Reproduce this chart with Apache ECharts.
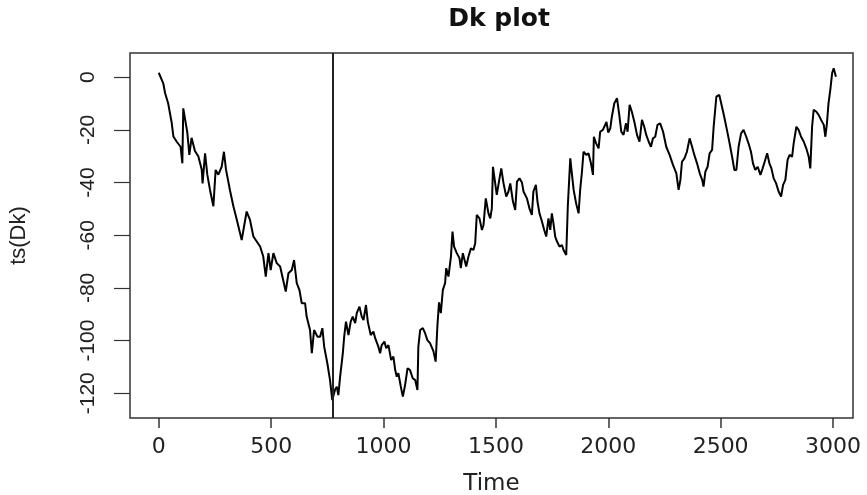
<!DOCTYPE html>
<html>
<head>
<meta charset="utf-8">
<title>Dk plot</title>
<script src="https://cdn.jsdelivr.net/npm/echarts@6/dist/echarts.min.js"></script>
<style>
  html, body { margin: 0; padding: 0; background: #fff; }
  #chart { width: 867px; height: 495px; }
</style>
</head>
<body>
<div id="chart"></div>
<script>
// values (time index, ts(Dk))
var timeIdx = [
  0, 20, 28, 42, 57, 65, 80, 97, 105, 109, 117, 127, 136, 146, 161, 176, 191, 195, 206, 216,
  228, 243, 253, 265, 280, 290, 299, 317, 332, 347, 362, 369, 391, 406, 421, 436, 451, 465, 476, 488,
  498, 510, 525, 540, 550, 565, 577, 592, 602, 614, 626, 636, 651, 658, 673, 681, 691, 706, 718, 728,
  736, 750, 762, 772, 785, 792, 799, 807, 819, 825, 833, 844, 854, 863, 874, 881, 893, 903, 911, 922,
  930, 943, 955, 963, 977, 985, 992, 1004, 1012, 1022, 1034, 1044, 1052, 1059, 1066, 1077, 1086, 1096, 1107, 1118,
  1130, 1141, 1151, 1155, 1163, 1175, 1185, 1195, 1207, 1222, 1232, 1240, 1247, 1255, 1264, 1274, 1279, 1289, 1300, 1307,
  1314, 1326, 1338, 1344, 1353, 1368, 1378, 1389, 1400, 1408, 1415, 1427, 1438, 1445, 1455, 1467, 1475, 1482, 1487, 1497,
  1504, 1515, 1524, 1534, 1546, 1556, 1564, 1576, 1586, 1594, 1605, 1616, 1623, 1638, 1650, 1660, 1667, 1678, 1685, 1694,
  1705, 1715, 1724, 1734, 1742, 1749, 1756, 1764, 1772, 1783, 1794, 1801, 1813, 1820, 1831, 1838, 1846, 1857, 1868, 1875,
  1883, 1890, 1902, 1912, 1923, 1932, 1936, 1946, 1957, 1964, 1976, 1992, 2000, 2009, 2016, 2027, 2039, 2049, 2058, 2068,
  2079, 2086, 2095, 2105, 2116, 2128, 2139, 2150, 2160, 2169, 2180, 2190, 2199, 2209, 2219, 2231, 2244, 2258, 2273, 2288,
  2303, 2313, 2321, 2328, 2339, 2350, 2362, 2373, 2383, 2395, 2407, 2418, 2424, 2432, 2442, 2451, 2462, 2469, 2481, 2494,
  2506, 2516, 2528, 2540, 2551, 2561, 2570, 2580, 2591, 2602, 2614, 2624, 2635, 2644, 2654, 2665, 2677, 2687, 2696, 2707,
  2717, 2726, 2736, 2747, 2758, 2769, 2778, 2788, 2798, 2807, 2818, 2825, 2837, 2847, 2858, 2870, 2881, 2892, 2899, 2907,
  2914, 2926, 2936, 2947, 2959, 2966, 2973, 2980, 2988, 2996, 3003, 3013
];
var dkValues = [
  1.7, -2.3, -6, -10, -17, -22.5, -24.5, -26.4, -32.7, -11.8, -12.4, -21, -29.5, -23, -28, -30, -35, -40.3, -28.9, -37,
  -42.8, -49, -35.2, -37, -34, -28.3, -35, -43, -49, -54, -59.3, -61.8, -51, -54.2, -60.5, -62.4, -64.3, -68.1, -75.7, -66.8,
  -73.2, -66.8, -70.6, -71.9, -75.7, -81.4, -74.4, -73.2, -69.4, -78.2, -80.8, -85.8, -85.8, -90.9, -96, -104.8, -96, -98.5, -98.5, -95.3,
  -102.3, -108.6, -115, -122.6, -118.5, -117.5, -120.7, -113.7, -104.8, -98.5, -92.8, -97.9, -92.8, -90.9, -93.4, -89.6, -87.1, -90.9, -92.2, -86.5,
  -92.8, -97.9, -96.6, -99.1, -102.3, -104.8, -101.7, -100.4, -102.9, -101.7, -107.4, -106.1, -111.2, -113.7, -112.4, -117.5, -121.3, -116.9, -110.5, -111.2,
  -114.3, -115, -118.8, -102.3, -96, -95.3, -97.2, -99.8, -101, -104, -108, -94.1, -85.5, -89.6, -80.8, -78.2, -72.5, -75.7, -68.1, -58.6,
  -64.3, -66.8, -68.7, -72.5, -66.8, -71.9, -68.1, -65, -65.6, -63, -52.3, -53.6, -58, -56.1, -46, -51.7, -53.6, -49.8, -34, -40.3,
  -44.7, -39, -34.6, -40.3, -45.3, -43.4, -40.3, -47.2, -50.4, -39.6, -38.4, -40, -43.4, -46, -50, -52.3, -43.4, -40.9, -47.2, -51.7,
  -54.8, -58, -60.5, -53.6, -58, -51.7, -55.4, -60.5, -62.4, -64.3, -63.7, -65.6, -67.5, -49.1, -30.8, -36.5, -42.8, -47.9, -51.7, -42.8,
  -35.9, -28.3, -29.5, -28.9, -32.7, -37.1, -22.6, -25.1, -27, -20.7, -20, -17, -21, -19.4, -15, -9.9, -8, -14.3, -20.7, -21.9,
  -17.5, -20.7, -10.5, -13.1, -16.9, -21.9, -24.5, -16.2, -18.8, -21.9, -24.5, -26.4, -23.2, -22.6, -18.1, -17.5, -20.7, -26.4, -29.5, -33.3,
  -36.5, -42.8, -39, -32.1, -30.8, -28.3, -23.2, -26.4, -29.5, -32.7, -36.5, -39, -41.5, -35.9, -34, -28.9, -27.6, -18.8, -7.4, -6.7,
  -11.2, -15, -20, -25.1, -30.2, -35.2, -35.2, -26.4, -21.3, -20, -22.6, -25.1, -28.3, -32.7, -35.2, -34, -37.1, -34.6, -32.1, -28.9,
  -32.7, -34.6, -38.4, -40.3, -43.4, -45.3, -40.9, -39, -31.4, -29.5, -30.2, -25.1, -18.8, -20, -22.6, -24.5, -27, -30.2, -34.6, -18.8,
  -12.4, -13.1, -14.3, -16.2, -18.1, -22.6, -17.5, -9.9, -4.8, 1.5, 3.4, 0.2
];
var xTicks = [0, 500, 1000, 1500, 2000, 2500, 3000];
var yTicks = [-120, -100, -80, -60, -40, -20, 0];
var breakPoint = 775;

var chart = echarts.init(document.getElementById('chart'), null, { renderer: 'canvas' });

var seriesData = timeIdx.map(function (t, i) { return [t, dkValues[i]]; });

function plain(v) { return String(v); }

chart.setOption({
  animation: false,
  backgroundColor: '#fff',
  title: {
    text: 'Dk plot',
    left: 494,
    top: 2,
    textAlign: 'center',
    textStyle: {
      fontFamily: 'DejaVu Sans',
      fontWeight: 'bold',
      fontSize: 25,
      color: '#111'
    }
  },
  grid: {
    left: 130,
    right: 14,
    top: 53,
    bottom: 77,
    containLabel: false,
    outerBoundsMode: 'none',
    show: true,
    borderColor: '#333',
    borderWidth: 1.5,
    backgroundColor: 'transparent'
  },
  xAxis: {
    type: 'value',
    min: -128,
    max: 3089,
    name: 'Time',
    nameLocation: 'middle',
    nameGap: 55,
    nameTextStyle: { fontFamily: 'DejaVu Sans', fontSize: 23, color: '#222' },
    axisLine: { show: false, onZero: false },
    splitLine: { show: false },
    axisTick: {
      show: true,
      inside: false,
      length: 10,
      customValues: xTicks,
      lineStyle: { color: '#333', width: 1.5 }
    },
    axisLabel: {
      customValues: xTicks,
      formatter: plain,
      margin: 18,
      fontFamily: 'DejaVu Sans',
      fontSize: 22,
      color: '#222'
    }
  },
  yAxis: {
    type: 'value',
    min: -129.4,
    max: 9.2,
    name: 'ts(Dk)',
    nameLocation: 'middle',
    nameGap: 100,
    nameTextStyle: { fontFamily: 'Liberation Sans', fontSize: 22, color: '#222' },
    axisLine: { show: false, onZero: false },
    splitLine: { show: false },
    axisTick: {
      show: true,
      inside: false,
      length: 16,
      customValues: yTicks,
      lineStyle: { color: '#333', width: 1.2 }
    },
    axisLabel: {
      customValues: yTicks,
      formatter: plain,
      rotate: 90,
      margin: 31,
      fontFamily: 'Liberation Sans Narrow, Liberation Sans',
      fontSize: 21,
      color: '#222'
    }
  },
  series: [
    {
      name: 'ts(Dk)',
      type: 'line',
      data: seriesData,
      showSymbol: false,
      symbol: 'none',
      lineStyle: { color: '#000', width: 2 },
      markLine: {
        silent: true,
        symbol: ['none', 'none'],
        label: { show: false },
        lineStyle: { color: '#222', width: 2, type: 'solid' },
        data: [{ xAxis: breakPoint }]
      }
    }
  ]
});
</script>
</body>
</html>
